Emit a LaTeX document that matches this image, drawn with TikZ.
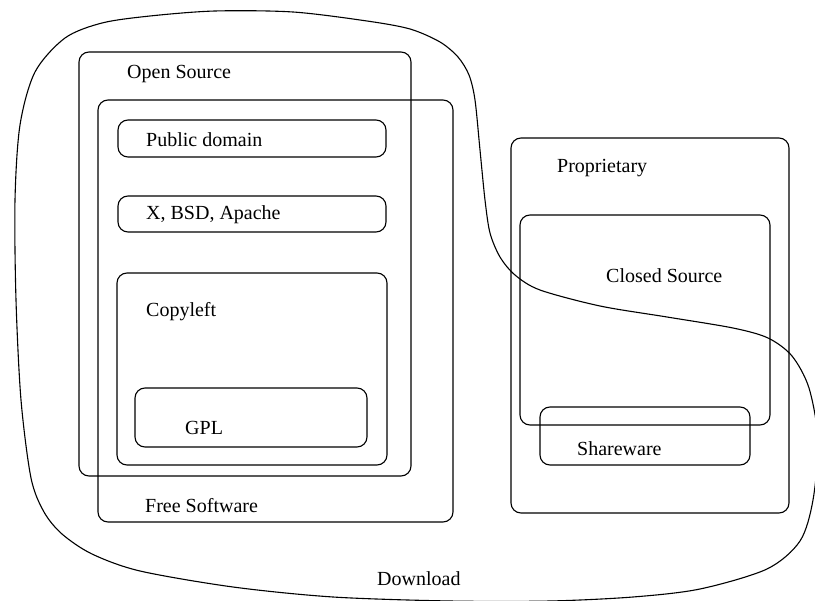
\documentclass[tikz,border=0pt]{standalone}
\usepackage{fontspec}
\setmainfont{Liberation Serif}
\begin{document}
\begin{tikzpicture}[x=1pt,y=-1pt,
  box/.style={draw=black,line width=1.1pt,rounded corners=10pt,inner sep=0pt},
  lbl/.style={anchor=west,inner sep=0pt,font=\fontsize{20}{22}\selectfont}]
\useasboundingbox (0,0) rectangle (815,601);
\fill[white] (0,0) rectangle (815,601);
% outer Download blob
\draw[line width=1.1pt] plot[smooth cycle,tension=0.5] coordinates {
 (150,16) (215,11) (293,12) (367,21) (410,29) (440,42) (458,57) (469,75)
 (475,100) (480,150) (485,200) (490,233) (500,257) (515,275) (540,290)
 (600,306) (667,317) (733,328) (768,338) (792,356) (809,388) (818,440)
 (813,500) (800,541) (767,569) (700,589) (633,597) (550,601) (450,601)
 (333,597) (233,587) (140,571) (92,554) (62,534) (44,512) (31,478)
 (21,400) (16,300) (15,200) (20,125) (35,72) (65,38) (102,23)};
% boxes
\draw[box] (79,52) rectangle (411,476);    % Open Source
\draw[box] (98,100) rectangle (453,522);   % Free Software
\draw[box] (118,120) rectangle (386,157);  % Public domain
\draw[box] (118,196) rectangle (386,232);  % X, BSD, Apache
\draw[box] (117,273) rectangle (387,465);  % Copyleft
\draw[box] (135,388) rectangle (367,447);  % GPL
\draw[box] (511,138) rectangle (789,513);  % Proprietary
\draw[box] (520,215) rectangle (770,425);  % Closed Source
\draw[box] (540,407) rectangle (750,465);  % Shareware
% labels
\node[lbl] (los) at (127,74) {Open Source};
\node[lbl] (lpd) at (146,140) {Public domain};
\node[lbl] (lx) at (146,215) {X, BSD, Apache};
\node[lbl] (lcl) at (146,312) {Copyleft};
\node[lbl] (lgpl) at (185,428) {GPL};
\node[lbl] (lfs) at (145,506) {Free Software};
\node[lbl] (lpr) at (557,168) {Proprietary};
\node[lbl] (lcs) at (606,276) {Closed Source};
\node[lbl] (lsw) at (577,449) {Shareware};
\node[lbl] (ldl) at (377,579) {Download};
\end{tikzpicture}
\end{document}
